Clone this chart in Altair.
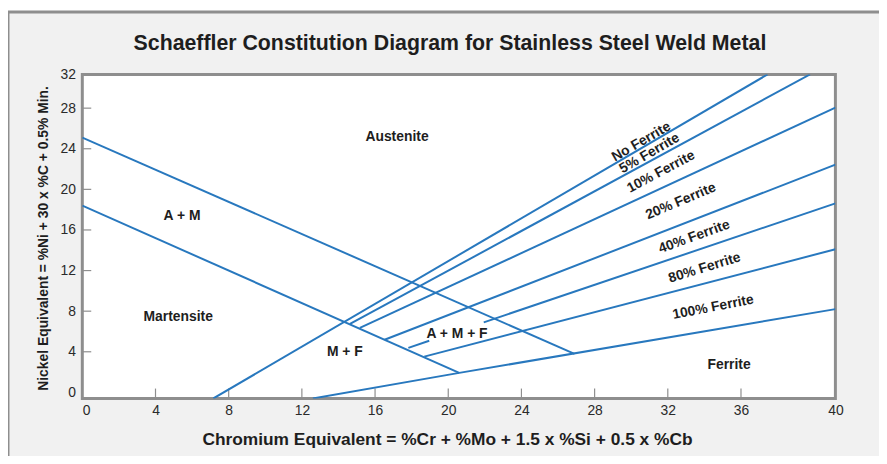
import altair as alt
import pandas as pd

TITLE = "Schaeffler Constitution Diagram for Stainless Steel Weld Metal"
X_TITLE = "Chromium Equivalent = %Cr + %Mo + 1.5 x %Si + 0.5 x %Cb"
Y_TITLE = "Nickel Equivalent = %Ni + 30 x %C + 0.5% Min."

# axis extents as drawn in the original (last labels sit on the frame edge)
X_MAX = 41.16
Y_MIN = -0.6
Y_MAX = 31.32
X_TICKS = [4, 8, 12, 16, 20, 24, 28, 32, 36]
Y_TICKS = [4, 8, 12, 16, 20, 24, 28]

# boundary lines of the diagram
line_names = ["Austenite boundary", "Martensite boundary", "No Ferrite", "5% Ferrite",
              "10% Ferrite", "20% Ferrite", "40% Ferrite (lower)", "40% Ferrite (upper)",
              "80% Ferrite", "100% Ferrite"]
line_x = [[0, 26.9], [0, 20.6], [7.16, 37.45], [14.63, 39.77], [15.17, 41.16],
          [16.52, 41.16], [17.82, 18.96], [21.94, 41.16], [18.69, 41.16], [12.6, 20.6, 41.16]]
line_y = [[25.1, 3.8], [18.4, 1.92], [-0.6, 31.32], [6.74, 31.32], [6.35, 28.05],
          [5.18, 22.43], [4.39, 5.08], [6.90, 18.62], [3.52, 14.1], [-0.6, 1.92, 8.2]]

# region labels
region_labels = ["Austenite", "A + M", "Martensite", "M + F", "A + M + F", "Ferrite"]
region_x = [17.2, 5.45, 5.24, 14.35, 20.48, 35.35]
region_y = [25.15, 17.35, 7.4, 3.95, 5.75, 2.65]

# ferrite-number labels
ferrite_labels = ["No Ferrite", "5% Ferrite", "10% Ferrite", "20% Ferrite",
                  "40% Ferrite", "80% Ferrite", "100% Ferrite"]
ferrite_x = [30.55, 31.0, 31.63, 32.71, 33.44, 34.01, 34.48]
ferrite_y = [24.68, 23.54, 21.72, 18.82, 15.32, 12.26, 8.38]
ferrite_angle = [330, 330, 332, 337, 340, 343, 349]

# ---- layout / style ----
W, H = 760, 327
PAD = {"left": 75, "top": 65, "right": 44, "bottom": 56}
BLUE = "#2878be"
TXT = "#1e1e1e"
GRAY = "#8e8e8e"
BOLD_FONT = "Liberation Sans, Arial, Helvetica, sans-serif"
NARROW_FONT = "Liberation Sans Narrow, Arial Narrow, Liberation Sans, Arial, sans-serif"

rows = []
for name, xs, ys in zip(line_names, line_x, line_y):
    for i, (xv, yv) in enumerate(zip(xs, ys)):
        rows.append({"series": name, "order": i, "x": xv, "y": yv})
lines_df = pd.DataFrame(rows)
regions_df = pd.DataFrame({"label": region_labels, "x": region_x, "y": region_y})
ferrite_df = pd.DataFrame({"label": ferrite_labels, "x": ferrite_x, "y": ferrite_y,
                           "angle": ferrite_angle})
dummy = pd.DataFrame({"a": [0]})

xscale = alt.Scale(domain=[0, X_MAX], nice=False, zero=False)
yscale = alt.Scale(domain=[Y_MIN, Y_MAX], nice=False, zero=False)

x_axis = alt.Axis(
    values=[0] + X_TICKS + [X_MAX],
    labelExpr="datum.value > 40 ? '40' : datum.label",
    labelAlign={"condition": {"test": "datum.value == 0", "value": "left"}, "value": "center"},
    ticks=False, domain=False, grid=False, labelPadding=5, zindex=3,
    labelFont=NARROW_FONT, labelFontSize=14, labelColor="#2a2a2a",
    title=X_TITLE, titleFont=BOLD_FONT, titleFontSize=17.5, titleFontWeight="bold",
    titleColor=TXT, titleX=368, titleY=46, titleAlign="center", titleBaseline="alphabetic",
)
y_axis = alt.Axis(
    values=[0] + Y_TICKS + [Y_MAX],
    labelExpr="datum.value > 31 ? '32' : datum.label",
    ticks=False, domain=False, grid=False, labelPadding=7, zindex=3,
    labelFont=NARROW_FONT, labelFontSize=14, labelColor="#2a2a2a",
    title=Y_TITLE, titleFont=BOLD_FONT, titleFontSize=14, titleFontWeight="bold",
    titleColor=TXT, titleX=-35, titleY=165, titleAngle=270, titleAlign="center",
    titleBaseline="alphabetic",
)
X = alt.X("x:Q", scale=xscale, axis=x_axis)
Y = alt.Y("y:Q", scale=yscale, axis=y_axis)

frame = alt.Chart(dummy).mark_rect(fill="#f1f1f1", stroke=GRAY, strokeWidth=3).encode(
    x=alt.value(-75), x2=alt.value(830), y=alt.value(-63), y2=alt.value(420)
)
plot_bg = alt.Chart(dummy).mark_rect(fill="white", stroke=GRAY, strokeWidth=3).encode(
    x=alt.value(0), x2=alt.value(W), y=alt.value(0), y2=alt.value(H)
)
xticks = alt.Chart(pd.DataFrame({"x": X_TICKS})).mark_rule(color=GRAY, strokeWidth=1.2).encode(
    x=X, y=alt.value(H - 10), y2=alt.value(H)
)
yticks = alt.Chart(pd.DataFrame({"y": Y_TICKS})).mark_rule(color=GRAY, strokeWidth=1.2).encode(
    y=Y, x=alt.value(0), x2=alt.value(9)
)

lines = alt.Chart(lines_df).mark_line(color=BLUE, strokeWidth=2, clip=True).encode(
    x=X, y=Y, detail="series:N", order="order:Q",
)
regions = alt.Chart(regions_df).mark_text(
    font=BOLD_FONT, fontSize=14, fontWeight="bold", color=TXT, align="center", baseline="middle"
).encode(x=X, y=Y, text="label:N")
ferrites = alt.Chart(ferrite_df).mark_text(
    font=BOLD_FONT, fontSize=14, fontWeight="bold", color=TXT, align="center", baseline="middle"
).encode(x=X, y=Y, angle=alt.Angle("angle:Q", scale=None), text="label:N")

chart = alt.layer(frame, plot_bg, xticks, yticks, lines, regions, ferrites).properties(
    width=W, height=H,
    padding=PAD,
    autosize=alt.AutoSizeParams(type="none"),
    title=alt.TitleParams(
        TITLE, font=BOLD_FONT, fontSize=21.5, fontWeight="bold", color=TXT,
        anchor="middle", frame="group", dx=-9, dy=48, zindex=3,
    ),
).configure_view(stroke=None, fill="white").configure(background="white")

chart.save("out.html", embed_options={"renderer": "svg", "actions": False})
